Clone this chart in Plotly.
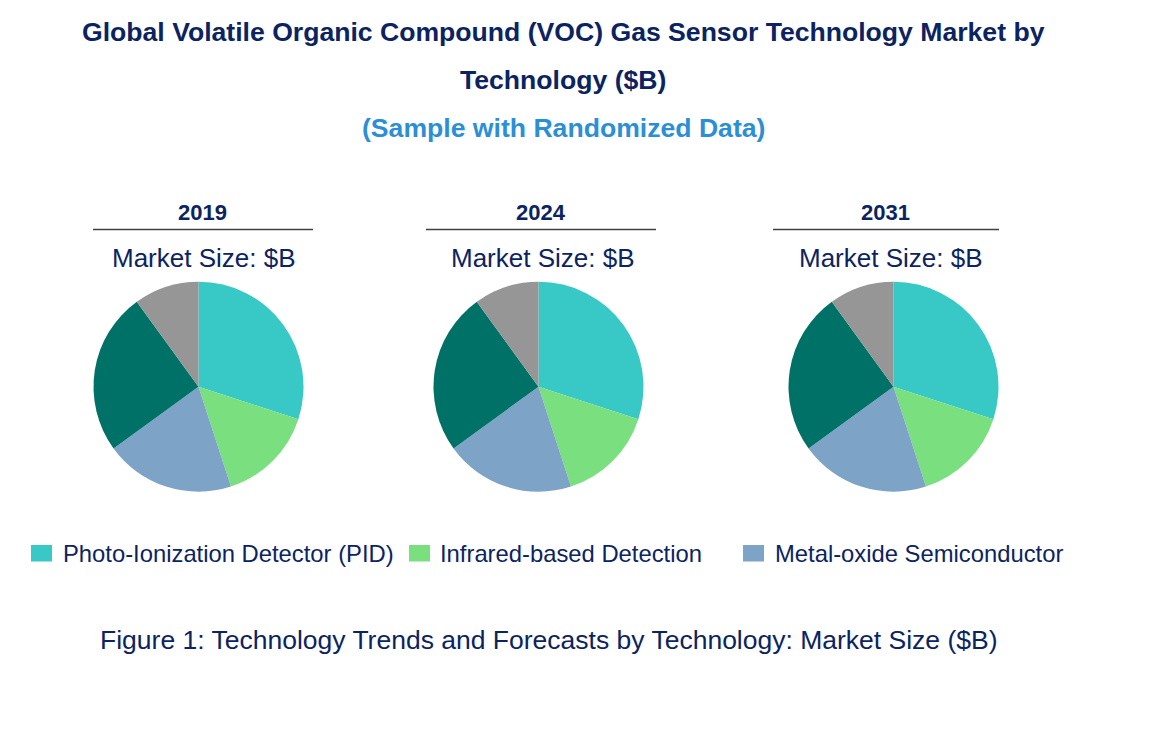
import plotly.graph_objects as go

W, H = 1170, 742

years = ["2019", "2024", "2031"]
labels = ["Photo-Ionization Detector (PID)", "Infrared-based Detection",
          "Metal-oxide Semiconductor", "Electrochemical", "Others"]
values_2019 = [30, 15, 20, 25, 10]
values_2024 = [30, 15, 20, 25, 10]
values_2031 = [30, 15, 20, 25, 10]
series = [values_2019, values_2024, values_2031]
legend_labels = labels[:3]

colors = ["#38C8C5", "#7AE07F", "#7DA3C7", "#007166", "#969696"]
NAVY = "#0B2461"
FONT = "Liberation Sans, Arial, sans-serif"

# layout positions (pixels)
pie_cx = [198.5, 538.5, 893.5]
pie_cy = 386.7
pie_r = 105
year_x = [202.5, 541, 885]
line_x = [(93, 313), (426, 656), (773, 999)]
ms_x = [203.5, 543, 890.5]

def px(x):
    return x / W

def py(y):
    return 1 - y / H

fig = go.Figure()
for i, vals in enumerate(series):
    cx = pie_cx[i]
    fig.add_trace(go.Pie(
        labels=labels, values=vals, sort=False, direction="clockwise", rotation=0,
        marker=dict(colors=colors, line=dict(width=0)),
        textinfo="none", showlegend=False, name=years[i],
        domain=dict(x=[px(cx - pie_r), px(cx + pie_r)],
                    y=[py(pie_cy + pie_r), py(pie_cy - pie_r)]),
    ))

annotations = []
shapes = []

def ann(text, x, y, size, color=NAVY, bold=False, xanchor="center"):
    if bold:
        text = "<b>" + text + "</b>"
    annotations.append(dict(text=text, x=px(x), y=py(y), xref="paper", yref="paper",
                            xanchor=xanchor, yanchor="middle", showarrow=False,
                            font=dict(family=FONT, size=size, color=color)))

ann("Global Volatile Organic Compound (VOC) Gas Sensor Technology Market by", 563, 32, 26.6, bold=True)
ann("Technology ($B)", 563, 80, 26.6, bold=True)
ann("(Sample with Randomized Data)", 563, 128, 26.6, color="#2B8FD6", bold=True)

for i, y in enumerate(years):
    ann(y, year_x[i], 213, 22, bold=True)
    x0, x1 = line_x[i]
    shapes.append(dict(type="line", xref="paper", yref="paper",
                       x0=px(x0), x1=px(x1), y0=py(229.5), y1=py(229.5),
                       line=dict(color="#404040", width=1.5)))
    ann("Market Size: $B", ms_x[i], 258, 26)

# legend (manual)
sq_x = [31, 409, 743]
txt_x = [61, 438, 773]
for i, lab in enumerate(legend_labels):
    shapes.append(dict(type="rect", xref="paper", yref="paper",
                       x0=px(sq_x[i]), x1=px(sq_x[i] + 21), y0=py(561.5), y1=py(545),
                       fillcolor=colors[i], line=dict(width=0)))
    ann(lab, txt_x[i], 553, 23.8, xanchor="left")

ann("Figure 1: Technology Trends and Forecasts by Technology: Market Size ($B)", 548.5, 640, 26.5)

fig.update_layout(
    width=W, height=H, margin=dict(l=0, r=0, t=0, b=0),
    paper_bgcolor="white", plot_bgcolor="white",
    annotations=annotations, shapes=shapes,
)
fig.write_html("out.html")
